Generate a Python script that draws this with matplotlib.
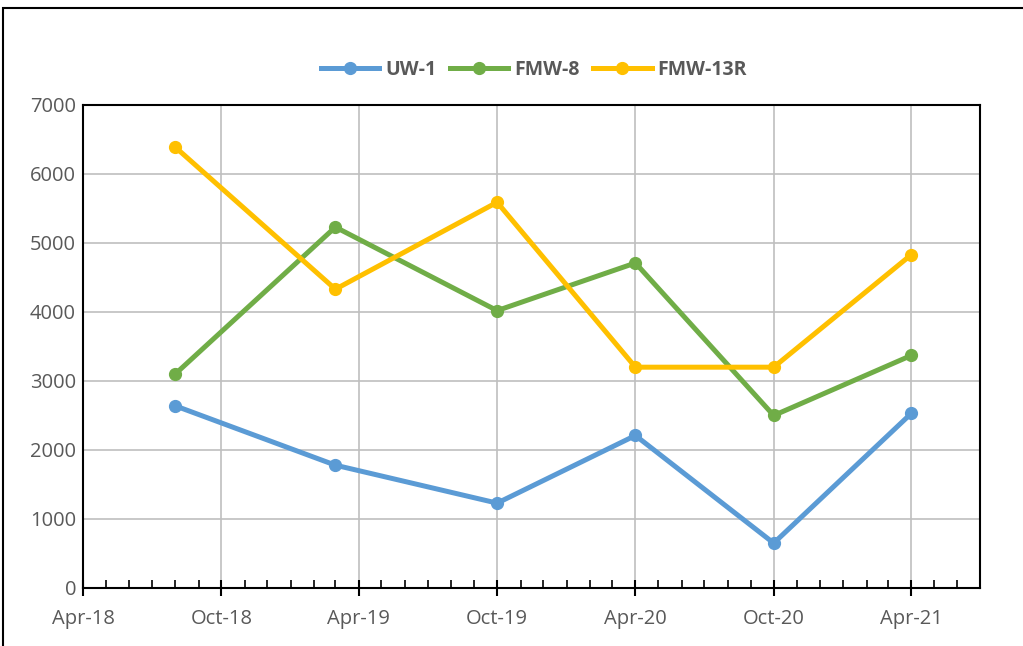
import matplotlib
matplotlib.use("Agg")
import matplotlib.pyplot as plt
import matplotlib.dates as mdates
from matplotlib.patches import Rectangle
from datetime import datetime

# Sampling dates and concentrations
dates = [datetime(2018, 8, 1), datetime(2019, 3, 1), datetime(2019, 10, 1),
         datetime(2020, 4, 1), datetime(2020, 10, 1), datetime(2021, 4, 1)]
uw1 = [2640, 1780, 1230, 2210, 650, 2530]
fmw8 = [3100, 5230, 4020, 4710, 2500, 3370]
fmw13r = [6390, 4330, 5590, 3200, 3200, 4830]

series_names = ["UW-1", "FMW-8", "FMW-13R"]
series_colors = ["#5B9BD5", "#70AD47", "#FFC000"]

plt.rcParams["font.family"] = ["Open Sans", "DejaVu Sans"]

fig = plt.figure(figsize=(10.23, 6.46), dpi=100)
ax = fig.add_axes([0.0811, 0.0898, 0.8769, 0.7477])

for vals, name, col in zip([uw1, fmw8, fmw13r], series_names, series_colors):
    ax.plot(dates, vals, color=col, linewidth=3.6, marker="o", markersize=8.5,
            label=name, zorder=3)

ax.set_xlim(datetime(2018, 4, 1), datetime(2021, 7, 1))
ax.set_ylim(0, 7000)
ax.set_yticks(range(0, 7001, 1000))

ax.xaxis.set_major_locator(mdates.MonthLocator(bymonth=[4, 10]))
ax.xaxis.set_major_formatter(mdates.DateFormatter("%b-%y"))
ax.xaxis.set_minor_locator(mdates.MonthLocator())

ax.grid(True, which="major", color="#BFBFBF", linewidth=1.2)
ax.set_axisbelow(True)
for s in ax.spines.values():
    s.set_color("black")
    s.set_linewidth(1.5)

ax.tick_params(axis="x", which="major", direction="inout", length=12, width=1.5,
               labelsize=14.5, labelcolor="#595959", pad=9)
ax.tick_params(axis="x", which="minor", direction="in", length=6, width=1.2)
ax.tick_params(axis="y", length=0, labelsize=14.5, labelcolor="#595959", pad=5)

leg = fig.legend(loc="center", bbox_to_anchor=(0.522, 0.892), ncol=3, frameon=False,
                 prop={"weight": "bold", "size": 14}, handlelength=3.0,
                 columnspacing=0.7, handletextpad=0.3)
for t in leg.get_texts():
    t.set_color("#595959")

# outer frame of the figure (top and left edges visible)
fig.patches.append(Rectangle((0.003, -0.1), 1.2, 1.088, transform=fig.transFigure,
                             fill=False, edgecolor="black", linewidth=1.5))

fig.savefig("out.png", dpi=100)
